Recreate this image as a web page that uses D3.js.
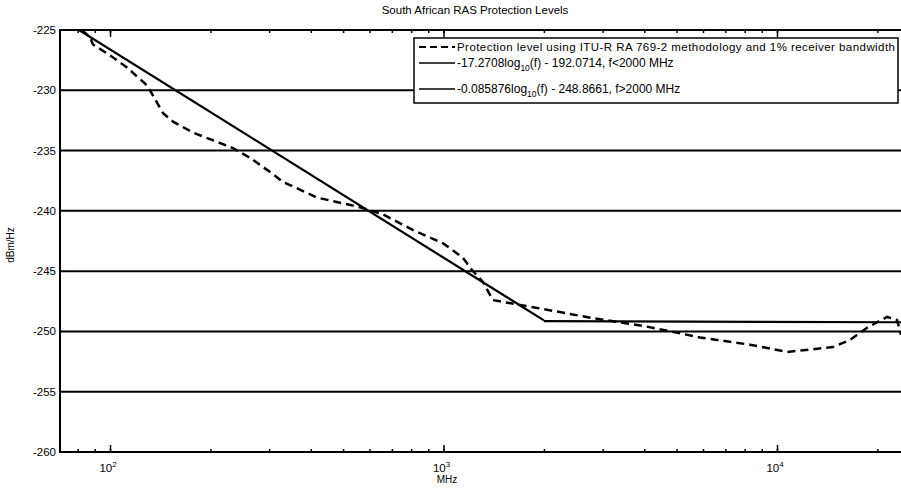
<!DOCTYPE html>
<html>
<head>
<meta charset="utf-8">
<script src="https://cdn.jsdelivr.net/npm/d3@7/dist/d3.min.js"></script>
<style>
  body { margin: 0; background: #fff; }
  svg { display: block; }
  text { font-family: "Liberation Sans", Arial, sans-serif; fill: #000; }
</style>
</head>
<body>
<svg id="chart" width="901" height="490"></svg>
<script>
// data
const chartTitle = "South African RAS Protection Levels";
const yTicks = [-260, -255, -250, -245, -240, -235, -230, -225];
const xDecades = [100, 1000, 10000];

// dashed curve: ITU-R RA 769-2 protection level
const measFreq = [82.4, 87.1, 88.9, 100, 112.4, 129.1, 131.8, 144.2, 154.5, 177.3, 233.8, 263, 295.8, 330.5,
  417.7, 562, 659, 811, 998, 1144, 1217, 1313, 1406, 1694, 2042, 2806, 4074, 5875, 8297, 10720,
  14720, 16560, 18620, 21380, 22910, 23550];
const measLevel = [-225, -225.6, -226.2, -227.1, -228.1, -229.6, -230.0, -231.9, -232.6, -233.5, -234.8, -235.6, -236.6, -237.6,
  -238.9, -239.7, -240.3, -241.6, -242.7, -243.9, -244.9, -245.9, -247.4, -247.8, -248.2, -248.9, -249.6, -250.5, -251.1, -251.7,
  -251.3, -250.7, -249.7, -248.8, -249.05, -250.3];

// solid fits
const lowFreq = [80.7, 2000];
const lowLevel = [-225, -249.08];
const highFreq = [2000, 24200];
const highLevel = [-249.15, -249.24];

const legendLabels = [
  ["Protection level using ITU-R RA 769-2 methodology and 1% receiver bandwidth"],
  ["-17.2708log", "10", "(f) - 192.0714, f<2000 MHz"],
  ["-0.085876log", "10", "(f) - 248.8661, f>2000 MHz"]
];

const svg = d3.select("#chart");
const plotLeft = 60, plotRight = 905, plotTop = 30, plotBottom = 452;

const x = d3.scaleLog().domain([70.8, 24200]).range([plotLeft, plotRight]);
const y = d3.scaleLinear().domain([-260, -225]).range([plotBottom, plotTop]);

svg.append("defs").append("clipPath").attr("id", "plot")
  .append("rect").attr("x", plotLeft).attr("y", plotTop)
  .attr("width", plotRight - plotLeft).attr("height", plotBottom - plotTop);

// grid lines
svg.append("g").selectAll("line")
  .data(yTicks.filter(d => d > -260 && d < -225))
  .enter().append("line")
  .attr("x1", plotLeft).attr("x2", plotRight)
  .attr("y1", d => y(d)).attr("y2", d => y(d))
  .attr("stroke", "#000").attr("stroke-width", 2);

// ticks on log axis (all 1..9 multiples)
const minorTicks = x.ticks().filter(d => d >= 71 && d <= 24200);

svg.append("g").attr("transform", `translate(0,${plotBottom})`)
  .call(d3.axisBottom(x).tickValues(minorTicks).tickSize(-3).tickFormat(""))
  .call(g => g.select(".domain").remove());
svg.append("g").attr("transform", `translate(0,${plotTop})`)
  .call(d3.axisTop(x).tickValues(minorTicks).tickSize(-3).tickFormat(""))
  .call(g => g.select(".domain").remove());

// major ticks
svg.append("g").attr("transform", `translate(0,${plotBottom})`)
  .call(d3.axisBottom(x).tickValues(xDecades).tickSize(-7).tickFormat(""))
  .call(g => g.select(".domain").remove());
svg.append("g").attr("transform", `translate(0,${plotTop})`)
  .call(d3.axisTop(x).tickValues(xDecades).tickSize(-7).tickFormat(""))
  .call(g => g.select(".domain").remove());
svg.selectAll(".tick line").attr("stroke", "#000").attr("stroke-width", 1.5);

// frame
svg.append("path")
  .attr("d", `M${plotRight},${plotTop}H${plotLeft}V${plotBottom}H${plotRight}`)
  .attr("fill", "none").attr("stroke", "#000").attr("stroke-width", 2);

// y tick labels
svg.append("g").selectAll("text")
  .data(yTicks).enter().append("text")
  .attr("x", plotLeft - 4).attr("y", d => y(d) + 4)
  .attr("text-anchor", "end").attr("font-size", 11.5)
  .text(d => "-" + Math.abs(d));

// x tick labels 10^n
const xl = svg.append("g").selectAll("text")
  .data(xDecades).enter().append("text")
  .attr("x", d => x(d) - 2).attr("y", 472)
  .attr("text-anchor", "middle").attr("font-size", 11.5);
xl.append("tspan").text("10");
xl.append("tspan").attr("dy", -5).attr("font-size", 8).text(d => Math.round(Math.log10(d)));

// axis titles
svg.append("text").attr("x", 447).attr("y", 483).attr("text-anchor", "middle")
  .attr("font-size", 10).text("MHz");
svg.append("text").attr("transform", "translate(14,245) rotate(-90)").attr("text-anchor", "middle")
  .attr("font-size", 10).text("dBm/Hz");
svg.append("text").attr("x", 475).attr("y", 14).attr("text-anchor", "middle")
  .attr("font-size", 11.5).text(chartTitle);

// data lines
const line = d3.line().x(d => x(d[0])).y(d => y(d[1]));
const plot = svg.append("g").attr("clip-path", "url(#plot)");

plot.append("path")
  .datum(d3.zip(lowFreq, lowLevel))
  .attr("d", line).attr("fill", "none").attr("stroke", "#000").attr("stroke-width", 2.2);
plot.append("path")
  .datum(d3.zip(highFreq, highLevel))
  .attr("d", line).attr("fill", "none").attr("stroke", "#000").attr("stroke-width", 2.2);
plot.append("path")
  .datum(d3.zip(measFreq, measLevel))
  .attr("d", line).attr("fill", "none").attr("stroke", "#000").attr("stroke-width", 2.5)
  .attr("stroke-dasharray", "8,5");

// legend
const lg = svg.append("g");
lg.append("rect").attr("x", 414).attr("y", 38).attr("width", 484).attr("height", 65)
  .attr("fill", "#fff").attr("stroke", "#000").attr("stroke-width", 1.5);
const rowY = [47, 63, 89];
rowY.forEach((ry, i) => {
  lg.append("line").attr("x1", 419).attr("x2", 455).attr("y1", ry).attr("y2", ry)
    .attr("stroke", "#000").attr("stroke-width", i === 0 ? 2 : 1.6)
    .attr("stroke-dasharray", i === 0 ? "7,4" : null);
  const t = lg.append("text").attr("x", 457).attr("y", ry + 4)
    .attr("font-size", i === 0 ? 11.5 : 12);
  const parts = legendLabels[i];
  t.append("tspan").text(parts[0]);
  if (parts.length > 1) {
    t.append("tspan").attr("dy", 4).attr("font-size", 8.5).text(parts[1]);
    t.append("tspan").attr("dy", -4).text(parts[2]);
  }
});
lg.select("text").attr("textLength", 438);
</script>
</body>
</html>
